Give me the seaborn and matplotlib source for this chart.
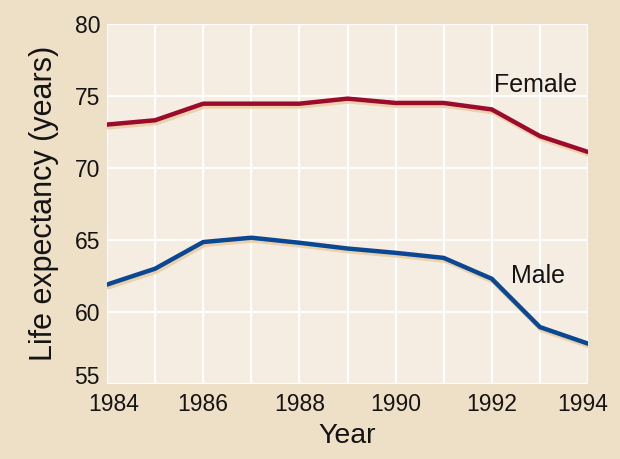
import pandas as pd
import seaborn as sns
import matplotlib.pyplot as plt
import matplotlib.patheffects as pe
from matplotlib.transforms import ScaledTranslation

# values
years = [1984, 1985, 1986, 1987, 1988, 1989, 1990, 1991, 1992, 1993, 1994]
female = [73.0, 73.3, 74.45, 74.45, 74.45, 74.8, 74.5, 74.5, 74.05, 72.2, 71.1]
male = [61.9, 63.0, 64.85, 65.15, 64.8, 64.4, 64.1, 63.75, 62.3, 58.95, 57.8]
series = ['Female', 'Male']
colors = {'Female': '#9c0a2c', 'Male': '#0a4894'}

df = pd.DataFrame({
    'Year': years * 2,
    'Life': female + male,
    'Sex': ['Female'] * len(years) + ['Male'] * len(years),
})

sns.set_style("white")
plt.rcParams['font.family'] = ['Liberation Sans', 'DejaVu Sans']

fig = plt.figure(figsize=(6.2, 4.59), dpi=100, facecolor='#eedfc7')
ax = fig.add_axes([0.1726, 0.1634, 0.7758, 0.7850])
ax.set_facecolor('#f5ece2')

sns.lineplot(data=df, x='Year', y='Life', hue='Sex', palette=colors,
             linewidth=3.2, legend=False, ax=ax, zorder=3)
for line in ax.get_lines():
    line.set_path_effects([
        pe.SimpleLineShadow(offset=(1, -2), shadow_color='#ead2ad', alpha=1),
        pe.Normal(),
    ])

ax.set_xlim(1984, 1994)
ax.set_ylim(55, 80)
ax.set_xticks(range(1984, 1995, 2))
ax.set_xticks(years, minor=True)
ax.set_yticks([55, 60, 65, 70, 75, 80])
ax.grid(True, which='both', color='white', linewidth=1.6, zorder=1)
ax.set_axisbelow(True)
for s in ax.spines.values():
    s.set_visible(False)
ax.tick_params(axis='both', which='both', length=0, labelsize=16.5,
               colors='#141414')
ax.tick_params(axis='x', pad=6.5)
ax.tick_params(axis='y', pad=5)

# nudge the corner labels inward like the original
fig.canvas.draw()
xl = ax.get_xticklabels()
xl[0].set_transform(xl[0].get_transform() +
                    ScaledTranslation(5 / 72, 0, fig.dpi_scale_trans))
xl[-1].set_transform(xl[-1].get_transform() +
                     ScaledTranslation(-3.5 / 72, 0, fig.dpi_scale_trans))
ax.get_yticklabels()[0].set_verticalalignment('baseline')

ax.set_xlabel('Year', fontsize=20.5, color='#141414', labelpad=5)
ax.set_ylabel('Life expectancy (years)', fontsize=22, color='#141414',
              labelpad=11.5)

ax.text(1992.91, 75.74, 'Female', fontsize=18, ha='center', va='center',
        color='#141414')
ax.text(1992.96, 62.47, 'Male', fontsize=18, ha='center', va='center',
        color='#141414')

fig.savefig('out.png', dpi=100, facecolor=fig.get_facecolor())
